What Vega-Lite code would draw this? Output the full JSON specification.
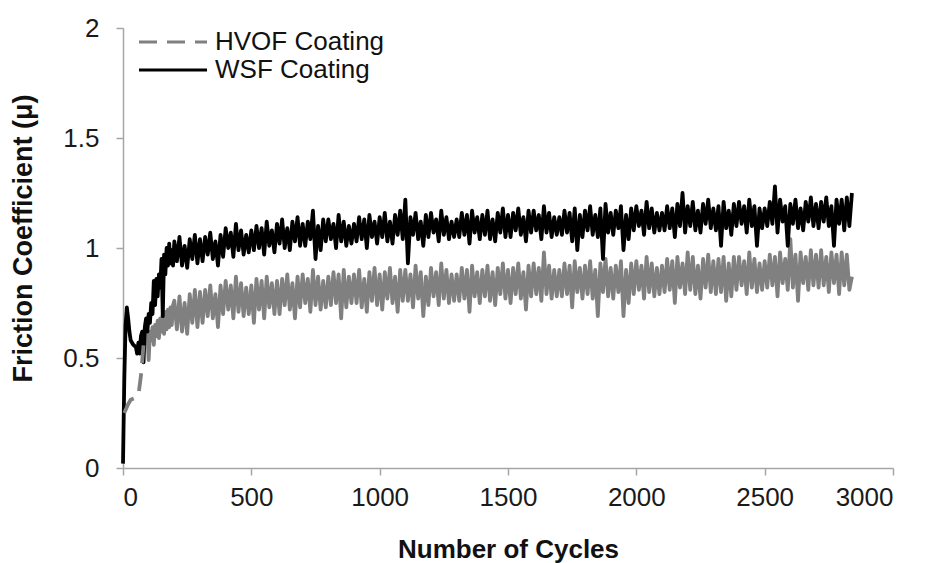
{
"$schema": "https://vega.github.io/schema/vega-lite/v6.json",
"width": 770,
"height": 440,
"autosize": {"type": "none"},
"padding": {"left": 123, "top": 28, "right": 32, "bottom": 95},
"background": "white",
"config": {
  "view": {"stroke": null},
  "font": "Liberation Sans",
  "axis": {"grid": false, "domainColor": "#a6a6a6", "tickColor": "#a6a6a6", "tickSize": 7, "domainWidth": 1.5, "tickWidth": 1.5, "labelFont": "Liberation Sans", "labelFontSize": 26, "labelColor": "#1a1a1a", "titleFont": "Liberation Sans", "titleFontSize": 26, "titleFontWeight": "bold", "titleColor": "#111111"},
  "legend": {"orient": "none", "legendX": 37, "legendY": 1, "symbolType": "M-4,0L4,0", "symbolSize": 289, "symbolStrokeWidth": 3, "labelFont": "Liberation Sans", "labelFontSize": 26, "labelColor": "#111111", "labelOffset": 29, "labelLimit": 400, "rowPadding": 2}
},
"data": {"values": [
{"c":0,"W":0.02},{"c":5,"W":0.40,"H":0.25},{"c":10,"W":0.65},{"c":15,"W":0.73},{"c":20,"W":0.68,"H":0.29},{"c":25,"W":0.62},{"c":30,"W":0.58,"H":0.31},{"c":40,"W":0.56},{"c":50,"W":0.55,"H":0.32},{"c":55,"W":0.52},{"c":60,"W":0.57,"H":0.33},{"c":65,"W":0.52},{"c":70,"W":0.60,"H":0.42},{"c":75,"W":0.62},{"c":80,"W":0.48,"H":0.56},
{"c":85,"W":0.64,"H":0.60},{"c":90,"W":0.68,"H":0.57},{"c":95,"W":0.62,"H":0.61},{"c":100,"W":0.70,"H":0.49},{"c":105,"W":0.66,"H":0.62},{"c":110,"W":0.75,"H":0.58},{"c":115,"W":0.70,"H":0.64},{"c":120,"W":0.85,"H":0.56},{"c":125,"W":0.74,"H":0.65},{"c":130,"W":0.86,"H":0.60},{"c":135,"W":0.78,"H":0.67},{"c":140,"W":0.88,"H":0.59},{"c":145,"W":0.82,"H":0.68},{"c":150,"W":0.95,"H":0.62},{"c":155,"W":0.69,"H":0.70},{"c":160,"W":0.97,"H":0.61},{"c":165,"W":0.88,"H":0.71},{"c":170,"W":1.00,"H":0.63},{"c":175,"W":0.92,"H":0.72},{"c":180,"W":1.02,"H":0.64},{"c":185,"W":0.93,"H":0.73},{"c":190,"W":0.99,"H":0.65},{"c":195,"W":0.92,"H":0.74},
{"c":200,"W":1.03,"H":0.76},{"c":210,"W":0.94,"H":0.63},{"c":220,"W":1.05,"H":0.78},{"c":230,"W":0.92,"H":0.62},{"c":240,"W":1.01,"H":0.75},{"c":250,"W":0.91,"H":0.61},{"c":260,"W":1.04,"H":0.79},{"c":270,"W":0.95,"H":0.66},{"c":280,"W":1.06,"H":0.81},{"c":290,"W":0.93,"H":0.64},
{"c":300,"W":1.04,"H":0.80},{"c":310,"W":0.94,"H":0.66},{"c":320,"W":1.05,"H":0.81},{"c":330,"W":0.97,"H":0.69},{"c":340,"W":1.07,"H":0.83},{"c":350,"W":0.95,"H":0.68},{"c":360,"W":1.03,"H":0.79},{"c":370,"W":0.92,"H":0.64},{"c":380,"W":1.06,"H":0.83},{"c":390,"W":0.96,"H":0.70},
{"c":400,"W":1.09,"H":0.85},{"c":410,"W":1.00,"H":0.72},{"c":420,"W":1.07,"H":0.83},{"c":430,"W":0.96,"H":0.68},{"c":440,"W":1.11,"H":0.87},{"c":450,"W":0.99,"H":0.71},{"c":460,"W":1.08,"H":0.84},{"c":470,"W":0.97,"H":0.69},{"c":480,"W":1.06,"H":0.82},{"c":490,"W":0.98,"H":0.70},
{"c":500,"W":1.08,"H":0.83},{"c":510,"W":0.99,"H":0.66},{"c":520,"W":1.10,"H":0.86},{"c":530,"W":1.00,"H":0.72},{"c":540,"W":1.09,"H":0.85},{"c":550,"W":0.97,"H":0.68},{"c":560,"W":1.12,"H":0.87},{"c":570,"W":1.01,"H":0.73},{"c":580,"W":1.08,"H":0.84},{"c":590,"W":0.98,"H":0.70},
{"c":600,"W":1.11,"H":0.85},{"c":610,"W":1.02,"H":0.70},{"c":620,"W":1.13,"H":0.86},{"c":630,"W":1.00,"H":0.74},{"c":640,"W":1.09,"H":0.88},{"c":650,"W":0.99,"H":0.72},{"c":660,"W":1.12,"H":0.84},{"c":670,"W":1.03,"H":0.68},{"c":680,"W":1.14,"H":0.87},{"c":690,"W":1.01,"H":0.73},
{"c":700,"W":1.11,"H":0.88},{"c":710,"W":1.01,"H":0.75},{"c":720,"W":1.12,"H":0.86},{"c":730,"W":1.04,"H":0.71},{"c":740,"W":1.17,"H":0.90},{"c":750,"W":0.95,"H":0.74},{"c":760,"W":1.10,"H":0.87},{"c":770,"W":0.99,"H":0.72},{"c":780,"W":1.13,"H":0.85},{"c":790,"W":1.03,"H":0.73},
{"c":800,"W":1.13,"H":0.87},{"c":810,"W":1.04,"H":0.74},{"c":820,"W":1.11,"H":0.89},{"c":830,"W":1.00,"H":0.75},{"c":840,"W":1.15,"H":0.88},{"c":850,"W":1.03,"H":0.68},{"c":860,"W":1.12,"H":0.90},{"c":870,"W":1.01,"H":0.73},{"c":880,"W":1.10,"H":0.87},{"c":890,"W":1.02,"H":0.75},
{"c":900,"W":1.11,"H":0.88},{"c":910,"W":1.03,"H":0.75},{"c":920,"W":1.14,"H":0.90},{"c":930,"W":1.04,"H":0.73},{"c":940,"W":1.13,"H":0.86},{"c":950,"W":1.00,"H":0.71},{"c":960,"W":1.15,"H":0.89},{"c":970,"W":1.05,"H":0.76},{"c":980,"W":1.12,"H":0.91},{"c":990,"W":1.02,"H":0.74},
{"c":1000,"W":1.14,"H":0.88},{"c":1010,"W":1.05,"H":0.72},{"c":1020,"W":1.16,"H":0.89},{"c":1030,"W":1.03,"H":0.77},{"c":1040,"W":1.12,"H":0.91},{"c":1050,"W":1.02,"H":0.75},{"c":1060,"W":1.15,"H":0.87},{"c":1070,"W":1.06,"H":0.71},{"c":1080,"W":1.17,"H":0.90},{"c":1090,"W":1.04,"H":0.76},
{"c":1100,"W":1.22,"H":0.90},{"c":1110,"W":0.93,"H":0.76},{"c":1120,"W":1.14,"H":0.88},{"c":1130,"W":1.06,"H":0.73},{"c":1140,"W":1.16,"H":0.92},{"c":1150,"W":1.04,"H":0.77},{"c":1160,"W":1.12,"H":0.89},{"c":1170,"W":1.01,"H":0.69},{"c":1180,"W":1.15,"H":0.87},{"c":1190,"W":1.05,"H":0.74},
{"c":1200,"W":1.16,"H":0.91},{"c":1210,"W":1.07,"H":0.78},{"c":1220,"W":1.13,"H":0.89},{"c":1230,"W":1.03,"H":0.74},{"c":1240,"W":1.17,"H":0.93},{"c":1250,"W":1.06,"H":0.77},{"c":1260,"W":1.14,"H":0.90},{"c":1270,"W":1.04,"H":0.75},{"c":1280,"W":1.12,"H":0.88},{"c":1290,"W":1.05,"H":0.76},
{"c":1300,"W":1.13,"H":0.88},{"c":1310,"W":1.05,"H":0.76},{"c":1320,"W":1.16,"H":0.91},{"c":1330,"W":1.06,"H":0.77},{"c":1340,"W":1.15,"H":0.90},{"c":1350,"W":1.02,"H":0.71},{"c":1360,"W":1.17,"H":0.92},{"c":1370,"W":1.07,"H":0.78},{"c":1380,"W":1.14,"H":0.89},{"c":1390,"W":1.04,"H":0.75},
{"c":1400,"W":1.15,"H":0.90},{"c":1410,"W":1.06,"H":0.78},{"c":1420,"W":1.17,"H":0.92},{"c":1430,"W":1.04,"H":0.76},{"c":1440,"W":1.13,"H":0.89},{"c":1450,"W":1.03,"H":0.74},{"c":1460,"W":1.16,"H":0.91},{"c":1470,"W":1.07,"H":0.79},{"c":1480,"W":1.18,"H":0.93},{"c":1490,"W":1.05,"H":0.77},
{"c":1500,"W":1.15,"H":0.90},{"c":1510,"W":1.05,"H":0.75},{"c":1520,"W":1.16,"H":0.91},{"c":1530,"W":1.08,"H":0.79},{"c":1540,"W":1.18,"H":0.93},{"c":1550,"W":1.06,"H":0.77},{"c":1560,"W":1.14,"H":0.89},{"c":1570,"W":1.03,"H":0.72},{"c":1580,"W":1.17,"H":0.92},{"c":1590,"W":1.07,"H":0.78},
{"c":1600,"W":1.17,"H":0.93},{"c":1610,"W":1.08,"H":0.79},{"c":1620,"W":1.15,"H":0.91},{"c":1630,"W":1.04,"H":0.76},{"c":1640,"W":1.19,"H":0.98},{"c":1650,"W":1.07,"H":0.79},{"c":1660,"W":1.16,"H":0.92},{"c":1670,"W":1.05,"H":0.77},{"c":1680,"W":1.14,"H":0.90},{"c":1690,"W":1.06,"H":0.78},
{"c":1700,"W":1.14,"H":0.90},{"c":1710,"W":1.06,"H":0.78},{"c":1720,"W":1.17,"H":0.93},{"c":1730,"W":1.07,"H":0.79},{"c":1740,"W":1.16,"H":0.92},{"c":1750,"W":1.03,"H":0.73},{"c":1760,"W":1.18,"H":0.94},{"c":1770,"W":0.99,"H":0.80},{"c":1780,"W":1.15,"H":0.91},{"c":1790,"W":1.05,"H":0.77},
{"c":1800,"W":1.17,"H":0.92},{"c":1810,"W":1.08,"H":0.79},{"c":1820,"W":1.19,"H":0.94},{"c":1830,"W":1.06,"H":0.77},{"c":1840,"W":1.15,"H":0.90},{"c":1850,"W":1.05,"H":0.69},{"c":1860,"W":1.18,"H":0.93},{"c":1870,"W":0.95,"H":0.80},{"c":1880,"W":1.20,"H":0.95},{"c":1890,"W":1.07,"H":0.78},
{"c":1900,"W":1.16,"H":0.91},{"c":1910,"W":1.06,"H":0.77},{"c":1920,"W":1.17,"H":0.92},{"c":1930,"W":1.09,"H":0.80},{"c":1940,"W":1.19,"H":0.94},{"c":1950,"W":0.99,"H":0.69},{"c":1960,"W":1.15,"H":0.90},{"c":1970,"W":1.04,"H":0.75},{"c":1980,"W":1.18,"H":0.93},{"c":1990,"W":1.08,"H":0.79},
{"c":2000,"W":1.19,"H":0.94},{"c":2010,"W":1.10,"H":0.81},{"c":2020,"W":1.17,"H":0.92},{"c":2030,"W":1.06,"H":0.77},{"c":2040,"W":1.21,"H":0.96},{"c":2050,"W":1.09,"H":0.80},{"c":2060,"W":1.18,"H":0.93},{"c":2070,"W":1.07,"H":0.78},{"c":2080,"W":1.16,"H":0.91},{"c":2090,"W":1.08,"H":0.79},
{"c":2100,"W":1.16,"H":0.92},{"c":2110,"W":1.08,"H":0.80},{"c":2120,"W":1.19,"H":0.95},{"c":2130,"W":1.09,"H":0.81},{"c":2140,"W":1.18,"H":0.94},{"c":2150,"W":1.05,"H":0.75},{"c":2160,"W":1.20,"H":0.96},{"c":2170,"W":1.10,"H":0.82},{"c":2180,"W":1.25,"H":0.93},{"c":2190,"W":1.07,"H":0.79},
{"c":2200,"W":1.19,"H":0.98},{"c":2210,"W":1.10,"H":0.81},{"c":2220,"W":1.21,"H":0.96},{"c":2230,"W":1.08,"H":0.79},{"c":2240,"W":1.17,"H":0.92},{"c":2250,"W":1.07,"H":0.77},{"c":2260,"W":1.20,"H":0.95},{"c":2270,"W":1.11,"H":0.82},{"c":2280,"W":1.22,"H":0.97},{"c":2290,"W":1.09,"H":0.80},
{"c":2300,"W":1.18,"H":0.94},{"c":2310,"W":1.08,"H":0.79},{"c":2320,"W":1.19,"H":0.95},{"c":2330,"W":1.01,"H":0.80},{"c":2340,"W":1.21,"H":0.96},{"c":2350,"W":1.09,"H":0.76},{"c":2360,"W":1.17,"H":0.93},{"c":2370,"W":1.06,"H":0.78},{"c":2380,"W":1.20,"H":0.96},{"c":2390,"W":1.10,"H":0.81},
{"c":2400,"W":1.21,"H":0.96},{"c":2410,"W":1.11,"H":0.83},{"c":2420,"W":1.19,"H":0.94},{"c":2430,"W":1.07,"H":0.79},{"c":2440,"W":1.22,"H":0.98},{"c":2450,"W":1.10,"H":0.82},{"c":2460,"W":1.19,"H":0.95},{"c":2470,"W":1.01,"H":0.80},{"c":2480,"W":1.18,"H":0.93},{"c":2490,"W":1.09,"H":0.81},
{"c":2500,"W":1.18,"H":0.94},{"c":2510,"W":1.10,"H":0.82},{"c":2520,"W":1.21,"H":0.97},{"c":2530,"W":1.11,"H":0.83},{"c":2540,"W":1.28,"H":0.96},{"c":2550,"W":1.07,"H":0.78},{"c":2560,"W":1.22,"H":0.98},{"c":2570,"W":1.12,"H":0.84},{"c":2580,"W":1.19,"H":0.95},{"c":2590,"W":1.01,"H":0.81},
{"c":2600,"W":1.20,"H":1.04},{"c":2610,"W":1.11,"H":0.82},{"c":2620,"W":1.22,"H":0.97},{"c":2630,"W":1.09,"H":0.76},{"c":2640,"W":1.18,"H":0.98},{"c":2650,"W":1.08,"H":0.84},{"c":2660,"W":1.21,"H":0.96},{"c":2670,"W":1.12,"H":0.81},{"c":2680,"W":1.23,"H":0.99},{"c":2690,"W":1.10,"H":0.83},
{"c":2700,"W":1.20,"H":0.97},{"c":2710,"W":1.09,"H":0.82},{"c":2720,"W":1.21,"H":0.99},{"c":2730,"W":1.12,"H":0.83},{"c":2740,"W":1.23,"H":0.96},{"c":2750,"W":1.10,"H":0.80},{"c":2760,"W":1.19,"H":0.98},{"c":2770,"W":1.01,"H":0.84},{"c":2780,"W":1.22,"H":0.97},{"c":2790,"W":1.11,"H":0.79},
{"c":2800,"W":1.22,"H":0.98},{"c":2810,"W":1.08,"H":0.83},{"c":2820,"W":1.23,"H":0.97},{"c":2830,"W":1.10,"H":0.81},{"c":2840,"W":1.25,"H":0.87}
]},
"transform": [
  {"fold": ["H", "W"], "as": ["series", "mu"]},
  {"filter": "isValid(datum.mu)"}
],
"encoding": {
  "x": {"field": "c", "type": "quantitative", "scale": {"domain": [0, 3000], "nice": false, "zero": false},
        "axis": {"title": "Number of Cycles", "values": [0, 500, 1000, 1500, 2000, 2500, 3000], "format": "d", "labelPadding": 9, "titleX": 385, "titleY": 81, "titleBaseline": "middle", "titleAlign": "center"}},
  "y": {"field": "mu", "type": "quantitative", "scale": {"domain": [0, 2], "nice": false},
        "axis": {"title": "Friction Coefficient (μ)", "values": [0, 0.5, 1, 1.5, 2], "format": "~g", "labelPadding": 17, "titleX": -100, "titleY": 210, "titleAngle": -90, "titleBaseline": "middle", "titleAlign": "center", "titleFontSize": 27}}
},
"layer": [
  {
    "transform": [{"filter": "datum.series == 'H' && datum.c >= 80"}],
    "mark": {"type": "line", "color": "#808080", "strokeWidth": 3.8, "strokeJoin": "round"}
  },
  {
    "transform": [{"filter": "datum.series == 'W' || datum.c <= 80"}],
    "mark": {"type": "line", "strokeWidth": 3.8, "strokeJoin": "round"},
    "encoding": {
      "color": {"field": "series", "type": "nominal", "scale": {"domain": ["H", "W"], "range": ["#808080", "#000000"]},
                "legend": {"title": null, "labelExpr": "datum.label == 'H' ? 'HVOF Coating' : 'WSF Coating'"}},
      "strokeDash": {"field": "series", "type": "nominal", "scale": {"domain": ["H", "W"], "range": [[18, 10], [1, 0]]},
                "legend": {"title": null, "labelExpr": "datum.label == 'H' ? 'HVOF Coating' : 'WSF Coating'"}}
    }
  }
]
}
